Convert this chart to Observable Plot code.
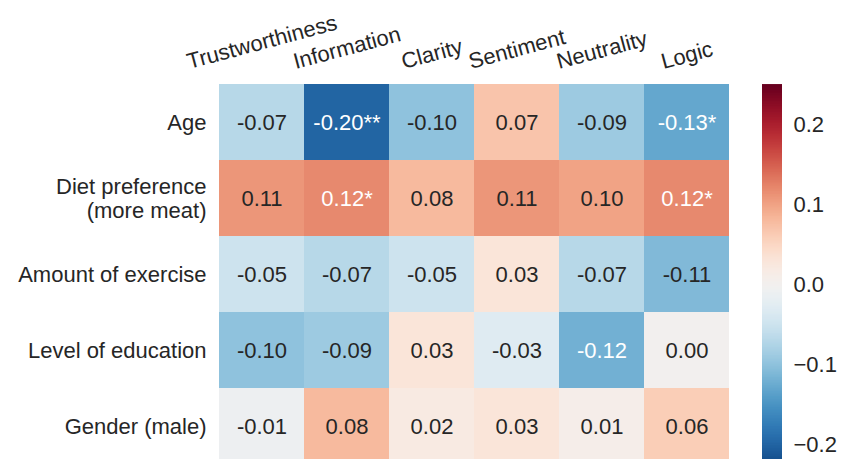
<!DOCTYPE html>
<html>
<head>
<meta charset="utf-8">
<script src="https://cdn.jsdelivr.net/npm/d3@7"></script>
<script src="https://cdn.jsdelivr.net/npm/@observablehq/plot@0.6"></script>
<style>
  html, body { margin: 0; padding: 0; background: #fff; }
  #wrap { position: relative; width: 841px; height: 459px; overflow: hidden; background: #fff; }
  #heat { position: absolute; left: 0; top: 0; }
  #cbar { position: absolute; left: 740px; top: 0; }
</style>
</head>
<body>
<div id="wrap"><div id="heat"></div><div id="cbar"></div></div>
<script>
const rows = ["Age", "Diet preference\n(more meat)", "Amount of exercise", "Level of education", "Gender (male)"];
const cols = ["Trustworthiness", "Information", "Clarity", "Sentiment", "Neutrality", "Logic"];
const values = [
  [-0.07, -0.20, -0.10, 0.07, -0.09, -0.13],
  [0.11, 0.12, 0.08, 0.11, 0.10, 0.12],
  [-0.05, -0.07, -0.05, 0.03, -0.07, -0.11],
  [-0.10, -0.09, 0.03, -0.03, -0.12, 0.00],
  [-0.01, 0.08, 0.02, 0.03, 0.01, 0.06]
];
const stars = [
  ["", "**", "", "", "", "*"],
  ["", "*", "", "", "", "*"],
  ["", "", "", "", "", ""],
  ["", "", "", "", "", ""],
  ["", "", "", "", "", ""]
];
const colorbarTicks = [0.2, 0.1, 0.0, -0.1, -0.2];
const colorDomain = [-0.25, 0.25];
const colorbarRange = [-0.225, 0.25];

const FONT = "'Liberation Sans', Arial, Helvetica, sans-serif";
const INK = "#262626";
const FS = 22;

const table = [];
rows.forEach((r, i) => cols.forEach((c, j) => {
  const v = values[i][j];
  table.push({row: r, col: c, value: v, label: v.toFixed(2) + stars[i][j]});
}));
const isLight = d => Math.abs(d.value) >= 0.115;

const colorOpts = {type: "linear", domain: colorDomain, scheme: "rdbu", reverse: true};

// measure column label widths for rotated bbox alignment
const ctx = document.createElement("canvas").getContext("2d");
ctx.font = `${FS}px ${FONT}`;
const ang = 15 * Math.PI / 180;
const halfH = s => (ctx.measureText(s).width * Math.sin(ang) + FS * 1.15 * Math.cos(ang)) / 2;

const heat = Plot.plot({
  width: 740,
  height: 464,
  marginLeft: 219,
  marginRight: 11,
  marginTop: 84,
  marginBottom: 0,
  style: {fontFamily: FONT, fontSize: FS + "px", color: INK, background: "transparent", overflow: "visible"},
  x: {domain: cols, padding: 0, axis: null},
  y: {domain: rows, padding: 0, axis: null},
  color: colorOpts,
  marks: [
    Plot.cell(table, {x: "col", y: "row", fill: "value"}),
    Plot.text(table.filter(d => !isLight(d)), {x: "col", y: "row", text: "label", fill: INK, fontSize: FS}),
    Plot.text(table.filter(isLight), {x: "col", y: "row", text: "label", fill: "white", fontSize: FS}),
    Plot.axisY({tickSize: 0, tickPadding: 13, fontSize: FS, lineHeight: 1.1, label: null, fill: INK}),
    ...cols.map(c => Plot.text([c], {
      x: d => d, frameAnchor: "top", rotate: -15, textAnchor: "middle", lineAnchor: "middle",
      dy: -(10 + halfH(c)), fontSize: FS, fill: INK
    }))
  ]
});
document.getElementById("heat").appendChild(heat);

const N = 240;
const step = (colorbarRange[1] - colorbarRange[0]) / N;
const slices = d3.range(N).map(i => ({y1: colorbarRange[0] + i * step, y2: colorbarRange[0] + (i + 1) * step}));

const cbar = Plot.plot({
  width: 101,
  height: 464,
  marginLeft: 22,
  marginRight: 59,
  marginTop: 85,
  marginBottom: 0,
  style: {fontFamily: FONT, fontSize: FS + "px", color: INK, background: "transparent"},
  y: {domain: colorbarRange, axis: null},
  color: colorOpts,
  marks: [
    Plot.rect(slices, {y1: "y1", y2: d => d.y2 + step * 0.6, fill: d => (d.y1 + d.y2) / 2}),
    Plot.axisY(colorbarTicks, {anchor: "right", tickSize: 0, tickPadding: 11, fontSize: FS, fill: INK,
      label: null, tickFormat: d => d.toFixed(1).replace("-", "\u2212")})
  ]
});
document.getElementById("cbar").appendChild(cbar);
</script>
</body>
</html>
